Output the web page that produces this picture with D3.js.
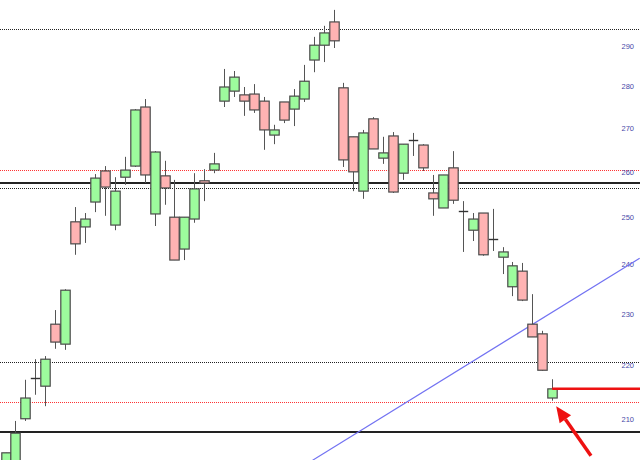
<!DOCTYPE html>
<html>
<head>
<meta charset="utf-8">
<script src="https://cdn.jsdelivr.net/npm/d3@7"></script>
<style>
  html, body { margin: 0; padding: 0; background: #fff; }
  svg { display: block; }
  .price-label { font-family: "Liberation Sans", Arial, sans-serif; font-size: 7.5px; fill: #4848a8; }
</style>
</head>
<body>
<div id="chart"></div>
<script>
// daily candles (index 0 = leftmost, partly cut)
const opens  = [201.0, 202.4, 210.1, 217.6, 216.1, 228.0, 224.1, 249.1, 248.0, 253.4,
                260.3, 248.4, 258.9, 261.4, 275.1, 250.8, 259.2, 250.1, 243.3, 249.7,
                258.1, 260.5, 276.5, 278.9, 278.0, 278.2, 276.5, 268.5, 276.3, 274.6,
                277.0, 286.5, 290.2, 296.1, 279.7, 268.1, 255.8, 272.3, 263.2, 268.3,
                259.8, 267.4, 266.2, 255.4, 252.1, 261.0, 251.4, 247.3, 251.0, 245.4,
                241.6, 235.5, 238.7, 228.0, 226.1, 213.9];
const highs  = [204.0, 209.7, 217.3, 221.2, 221.8, 230.8, 235.0, 252.3, 251.0, 259.6,
                261.4, 258.9, 263.5, 274.6, 277.0, 264.8, 262.6, 258.3, 250.1, 259.8,
                260.7, 264.4, 284.3, 283.8, 279.9, 280.6, 277.5, 270.9, 276.3, 279.4,
                285.3, 292.3, 295.1, 299.2, 280.9, 268.1, 269.7, 272.7, 268.1, 269.2,
                266.4, 269.0, 266.4, 259.4, 259.4, 264.8, 253.6, 251.0, 251.0, 251.9,
                243.7, 240.6, 240.4, 234.0, 226.7, 217.4];
const lows   = [200.5, 201.9, 209.7, 214.5, 212.4, 223.2, 223.0, 242.1, 244.6, 251.2,
                250.4, 247.3, 257.2, 261.2, 257.6, 248.2, 252.8, 241.0, 241.0, 248.9,
                253.6, 259.8, 275.1, 277.5, 273.0, 273.7, 265.1, 266.4, 271.3, 270.6,
                276.3, 283.5, 286.0, 289.5, 261.2, 255.8, 254.1, 265.3, 261.9, 255.4,
                258.3, 263.7, 260.3, 250.4, 252.1, 253.0, 242.7, 245.0, 241.9, 242.9,
                238.1, 233.6, 232.6, 225.5, 219.0, 213.4];
const closes = [204.0, 207.5, 213.9, 217.6, 221.2, 224.5, 234.8, 244.4, 249.7, 258.7,
                256.7, 255.8, 260.5, 274.4, 259.4, 264.6, 256.5, 241.0, 250.1, 256.3,
                257.6, 261.9, 279.9, 282.3, 276.5, 274.4, 269.7, 269.7, 272.0, 277.7,
                281.3, 290.2, 293.3, 291.3, 262.8, 260.1, 269.0, 265.3, 264.4, 255.6,
                266.4, 267.4, 261.0, 254.1, 259.4, 253.8, 251.4, 249.7, 242.1, 245.4,
                242.7, 239.8, 232.8, 225.5, 219.1, 215.6];

// price axis labels on the right
const priceTicks = [210, 220, 230, 240, 250, 260, 270, 280, 290];

// drawn levels
const dottedBlack = [294.2, 256.5, 220.7];
const dottedRed   = [260.5, 213.1];
const solidBlack  = [257.6, 207.7];
const supportRed  = { from: 55, to: 64, price: 215.6 };
// trendline (bar index, price)
const trendline = [{ i: 30.9, p: 202.7 }, { i: 63.8, p: 241.4 }];
// arrow pointing at the last candle: tail -> tip
const arrow = [{ i: 58.9, p: 203.5 }, { i: 55.4, p: 212.4 }];

const W = 640, H = 460;
const data = opens.map((o, k) => ({ i: k, o: o, h: highs[k], l: lows[k], c: closes[k] }));

const svg = d3.select('#chart').append('svg')
  .attr('width', W).attr('height', H);

const x = d3.scaleLinear().domain([0, 55]).range([5.5, 552.2]);
const y = d3.scaleLog().domain([210, 290]).range([419.3, 46]);

// levels
svg.selectAll('line.dblack').data(dottedBlack).enter().append('line')
  .attr('x1', 0).attr('x2', W)
  .attr('y1', d => Math.round(y(d)) + 0.5).attr('y2', d => Math.round(y(d)) + 0.5)
  .attr('stroke', '#222').attr('stroke-width', 1).attr('stroke-dasharray', '1,1');

svg.selectAll('line.dred').data(dottedRed).enter().append('line')
  .attr('x1', 0).attr('x2', W)
  .attr('y1', d => Math.round(y(d)) + 0.5).attr('y2', d => Math.round(y(d)) + 0.5)
  .attr('stroke', '#f33').attr('stroke-width', 1).attr('stroke-dasharray', '1,1');

svg.selectAll('line.sblack').data(solidBlack).enter().append('line')
  .attr('x1', 0).attr('x2', W)
  .attr('y1', d => Math.round(y(d))).attr('y2', d => Math.round(y(d)))
  .attr('stroke', '#222').attr('stroke-width', 2);

// price labels
svg.selectAll('text.price-label').data(priceTicks).enter().append('text')
  .attr('class', 'price-label')
  .attr('x', 634).attr('y', d => y(d))
  .attr('dy', '0.35em')
  .attr('text-anchor', 'end')
  .text(d => d);

// trendline
svg.append('line')
  .attr('x1', x(trendline[0].i)).attr('y1', y(trendline[0].p))
  .attr('x2', x(trendline[1].i)).attr('y2', y(trendline[1].p))
  .attr('stroke', '#7272f2').attr('stroke-width', 1.2);

// candles
const g = svg.append('g');
const bw = 9.4;
g.selectAll('line.wick').data(data).enter().append('line')
  .attr('x1', d => Math.round(x(d.i)) + 0.5).attr('x2', d => Math.round(x(d.i)) + 0.5)
  .attr('y1', d => y(d.h)).attr('y2', d => y(d.l))
  .attr('stroke', '#555').attr('stroke-width', 1);

g.selectAll('rect.body').data(data.filter(d => d.o !== d.c)).enter().append('rect')
  .attr('x', d => Math.round(x(d.i)) - bw / 2 + 0.5)
  .attr('y', d => y(Math.max(d.o, d.c)))
  .attr('width', bw)
  .attr('height', d => Math.max(1, y(Math.min(d.o, d.c)) - y(Math.max(d.o, d.c))))
  .attr('fill', d => d.c > d.o ? '#9dfb9d' : '#ffb3b3')
  .attr('stroke', '#4a4a4a').attr('stroke-width', 1.2);

g.selectAll('line.doji').data(data.filter(d => d.o === d.c)).enter().append('line')
  .attr('x1', d => Math.round(x(d.i)) - bw / 2 + 0.5).attr('x2', d => Math.round(x(d.i)) + bw / 2 + 0.5)
  .attr('y1', d => Math.round(y(d.o)) + 0.5).attr('y2', d => Math.round(y(d.o)) + 0.5)
  .attr('stroke', '#333').attr('stroke-width', 1.4);

// red support line from the last candle
svg.append('line')
  .attr('x1', x(supportRed.from)).attr('x2', x(supportRed.to))
  .attr('y1', y(supportRed.price)).attr('y2', y(supportRed.price))
  .attr('stroke', '#ee1111').attr('stroke-width', 2.5);

// arrow
var ax0 = x(arrow[0].i), ay0 = y(arrow[0].p), ax1 = x(arrow[1].i), ay1 = y(arrow[1].p);
var ang = Math.atan2(ay1 - ay0, ax1 - ax0);
var headLen = 16, headW = 7;
var bx = ax1 - headLen * Math.cos(ang), by = ay1 - headLen * Math.sin(ang);
svg.append('line')
  .attr('x1', ax0).attr('y1', ay0).attr('x2', bx).attr('y2', by)
  .attr('stroke', '#ee1111').attr('stroke-width', 3.5);
svg.append('path')
  .attr('d', d3.line()([
    [ax1, ay1],
    [bx + headW * Math.sin(ang), by - headW * Math.cos(ang)],
    [bx - headW * Math.sin(ang), by + headW * Math.cos(ang)]
  ]) + 'Z')
  .attr('fill', '#ee1111');
</script>
</body>
</html>
